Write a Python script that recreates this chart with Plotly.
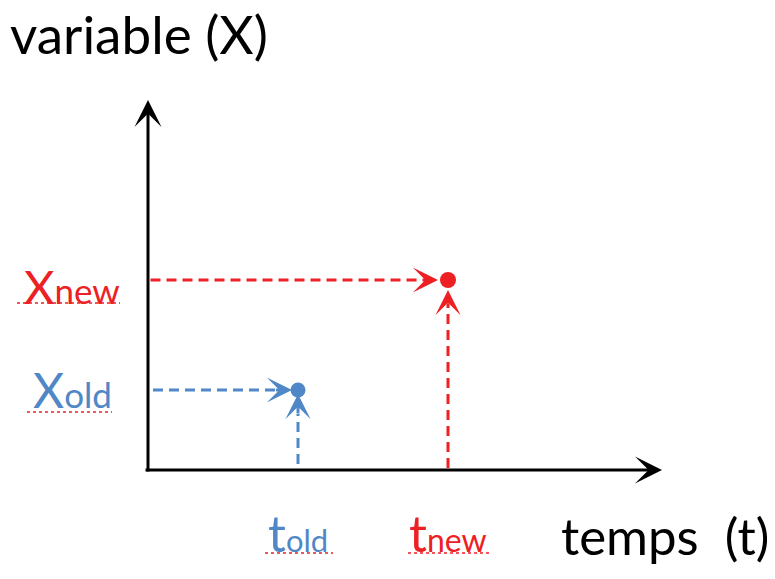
import plotly.graph_objects as go

# ---- data ----
t_old, x_old = 3.0, 2.0
t_new, x_new = 6.0, 4.75
x_axis_end = 10.28
y_axis_end = 9.25

red = "#ED2024"
blue = "#4F87C7"
FONT = "Lato"

# page has an 8px body margin; figure sized to fit the viewport
OFF = 8
W, H = 775 - OFF, 579 - OFF

def px(p):  # reference x pixel -> paper
    return (p - OFF) / W

def py(p):  # reference y pixel -> paper
    return 1 - (p - OFF) / H

fig = go.Figure()

def dashed(xs, ys, color):
    fig.add_trace(go.Scatter(x=xs, y=ys, mode="lines",
                             line=dict(color=color, width=3, dash="10px,6px"),
                             hoverinfo="skip", showlegend=False))

back_x = 0.45
back_y = 0.6
dashed([0.05, t_new - back_x], [x_new, x_new], red)
dashed([t_new, t_new], [0.05, x_new - back_y], red)
dashed([0.1, t_old - back_x], [x_old, x_old], blue)
dashed([t_old, t_old], [0.15, x_old - back_y], blue)

fig.add_trace(go.Scatter(x=[t_old], y=[x_old], mode="markers",
                         marker=dict(color=blue, size=15), showlegend=False, hoverinfo="skip"))
fig.add_trace(go.Scatter(x=[t_new], y=[x_new], mode="markers",
                         marker=dict(color=red, size=16), showlegend=False, hoverinfo="skip"))

anns = []

def arrow(x, y, ax, ay, color, size, standoff=0):
    anns.append(dict(x=x, y=y, ax=ax, ay=ay, xref="x", yref="y", axref="x", ayref="y",
                     showarrow=True, arrowhead=3, arrowwidth=3, arrowsize=size,
                     arrowcolor=color, standoff=standoff, text="", borderpad=0,
                     font=dict(size=1)))

arrow(x_axis_end, 0, -0.06, 0, "black", 1.5)
arrow(0, y_axis_end, 0, -0.05, "black", 1.5)

arrow(t_new, x_new, t_new - back_x, x_new, red, 1.4, 10)
arrow(t_new, x_new, t_new, x_new - back_y, red, 1.4, 10)
arrow(t_old, x_old, t_old - back_x, x_old, blue, 1.4, 6)
arrow(t_old, x_old, t_old, x_old - back_y, blue, 1.4, 4)

def lab(text, x, y, xanchor, color, size, xshift=0, yshift=0):
    anns.append(dict(text=text, x=x, y=y, xref="x", yref="y", xanchor=xanchor, yanchor="middle",
                     xshift=xshift, yshift=yshift, showarrow=False,
                     font=dict(family=FONT, size=size, color=color)))

lab("X<span style='font-size:35px'>new</span>", 0, x_new, "right", red, 47, xshift=-26, yshift=-6)
lab("X<span style='font-size:35px'>old</span>", 0, x_old, "right", blue, 48, xshift=-34, yshift=1)
lab("t<span style='font-size:31px'>old</span>", t_old, 0, "center", blue, 50, yshift=-63)
lab("t<span style='font-size:32px'>new</span>", t_new, 0, "center", red, 50, yshift=-63)

anns.append(dict(text="variable (X)", x=px(9), y=py(33), xref="paper", yref="paper",
                 xanchor="left", yanchor="middle", showarrow=False, borderpad=0,
                 font=dict(family=FONT, size=53, color="black")))
anns.append(dict(text="temps\u00a0 (t)", x=px(771), y=py(535), xref="paper", yref="paper",
                 xanchor="right", yanchor="middle", showarrow=False,
                 font=dict(family=FONT, size=51, color="black")))

shapes = []
def under(x0, x1, ypix):
    shapes.append(dict(type="line", xref="paper", yref="paper",
                       x0=px(x0), x1=px(x1), y0=py(ypix), y1=py(ypix),
                       line=dict(color=red, width=1.5, dash="dot")))
under(17, 120, 303)
under(27, 112, 412)
under(265, 333, 553)
under(408, 490, 553)

# data origin at reference pixel (148, 470): 50 px per x unit, 40 px per y unit
fig.update_layout(
    width=W, height=H, autosize=False,
    margin=dict(l=0, r=0, t=0, b=0),
    paper_bgcolor="white", plot_bgcolor="white",
    xaxis=dict(range=[-(148 - OFF) / 50, (W - (148 - OFF)) / 50], visible=False, fixedrange=True),
    yaxis=dict(range=[-(H - (470 - OFF)) / 40, (470 - OFF) / 40], visible=False, fixedrange=True),
    annotations=anns, shapes=shapes, showlegend=False,
)
fig.write_html("out.html")
